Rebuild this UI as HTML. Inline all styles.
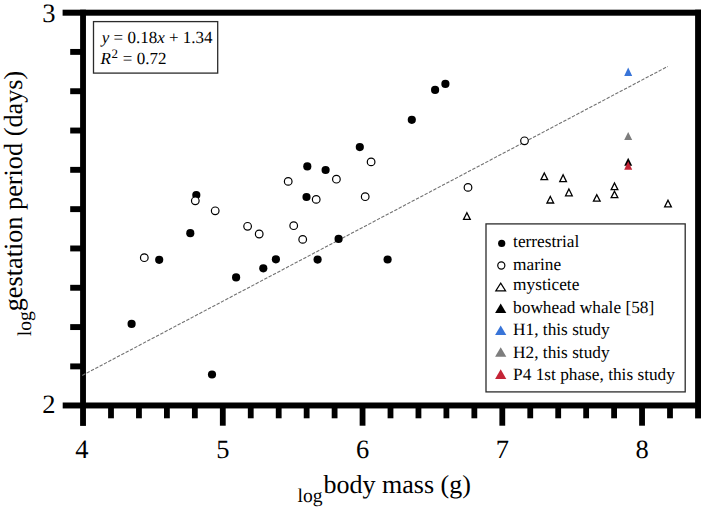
<!DOCTYPE html><html><head><meta charset="utf-8"><style>html,body{margin:0;padding:0;background:#fff;}svg{display:block;}text{font-family:"Liberation Serif",serif;fill:#000;text-rendering:geometricPrecision;}</style></head><body>
<svg width="701" height="508" viewBox="0 0 701 508">
<rect width="701" height="508" fill="#fff"/>
<rect x="62.6" y="9.7" width="640" height="6" fill="#000"/>
<rect x="62.7" y="402.5" width="640" height="5.95" fill="#000"/>
<rect x="80.1" y="9.7" width="5.85" height="416.2" fill="#000"/>
<rect x="695.1" y="9.7" width="6" height="408.7" fill="#000"/>
<line x1="82.3" y1="375.4" x2="667.8" y2="66.4" stroke="#727272" stroke-width="1.1" stroke-dasharray="3.4 1.5"/>
<circle cx="131.6" cy="323.9" r="4.08" fill="#000"/>
<circle cx="159.2" cy="259.8" r="4.08" fill="#000"/>
<circle cx="190.3" cy="233.2" r="4.08" fill="#000"/>
<circle cx="196.3" cy="195.0" r="4.08" fill="#000"/>
<circle cx="212.0" cy="374.5" r="4.08" fill="#000"/>
<circle cx="236.1" cy="277.4" r="4.08" fill="#000"/>
<circle cx="263.3" cy="268.3" r="4.08" fill="#000"/>
<circle cx="275.9" cy="259.3" r="4.08" fill="#000"/>
<circle cx="307.3" cy="166.4" r="4.08" fill="#000"/>
<circle cx="306.5" cy="197.0" r="4.08" fill="#000"/>
<circle cx="317.6" cy="259.6" r="4.08" fill="#000"/>
<circle cx="325.6" cy="170.0" r="4.08" fill="#000"/>
<circle cx="338.6" cy="238.9" r="4.08" fill="#000"/>
<circle cx="359.8" cy="147.1" r="4.08" fill="#000"/>
<circle cx="387.6" cy="259.5" r="4.08" fill="#000"/>
<circle cx="411.8" cy="119.8" r="4.08" fill="#000"/>
<circle cx="435.1" cy="89.9" r="4.08" fill="#000"/>
<circle cx="445.4" cy="83.9" r="4.08" fill="#000"/>
<circle cx="144.3" cy="257.7" r="3.82" fill="#fff" stroke="#000" stroke-width="1.2"/>
<circle cx="195.3" cy="200.8" r="3.82" fill="#fff" stroke="#000" stroke-width="1.2"/>
<circle cx="215.2" cy="210.8" r="3.82" fill="#fff" stroke="#000" stroke-width="1.2"/>
<circle cx="247.6" cy="226.3" r="3.82" fill="#fff" stroke="#000" stroke-width="1.2"/>
<circle cx="259.2" cy="234.0" r="3.82" fill="#fff" stroke="#000" stroke-width="1.2"/>
<circle cx="288.2" cy="181.4" r="3.82" fill="#fff" stroke="#000" stroke-width="1.2"/>
<circle cx="293.7" cy="225.7" r="3.82" fill="#fff" stroke="#000" stroke-width="1.2"/>
<circle cx="302.7" cy="239.4" r="3.82" fill="#fff" stroke="#000" stroke-width="1.2"/>
<circle cx="316.2" cy="199.4" r="3.82" fill="#fff" stroke="#000" stroke-width="1.2"/>
<circle cx="336.4" cy="179.2" r="3.82" fill="#fff" stroke="#000" stroke-width="1.2"/>
<circle cx="365.2" cy="196.7" r="3.82" fill="#fff" stroke="#000" stroke-width="1.2"/>
<circle cx="371.1" cy="161.9" r="3.82" fill="#fff" stroke="#000" stroke-width="1.2"/>
<circle cx="468.0" cy="187.4" r="3.82" fill="#fff" stroke="#000" stroke-width="1.2"/>
<circle cx="524.5" cy="140.8" r="3.82" fill="#fff" stroke="#000" stroke-width="1.2"/>
<path d="M466.9 212.70000000000002L470.25 219.4L463.54999999999995 219.4Z" fill="#fff" stroke="#000" stroke-width="1.3" stroke-linejoin="miter"/>
<path d="M544.3 173.0L547.65 179.70000000000002L540.9499999999999 179.70000000000002Z" fill="#fff" stroke="#000" stroke-width="1.3" stroke-linejoin="miter"/>
<path d="M563.1 174.70000000000002L566.45 181.6L559.75 181.6Z" fill="#fff" stroke="#000" stroke-width="1.3" stroke-linejoin="miter"/>
<path d="M568.9 189.0L572.25 195.8L565.55 195.8Z" fill="#fff" stroke="#000" stroke-width="1.3" stroke-linejoin="miter"/>
<path d="M550.3 196.5L553.65 203.0L546.9499999999999 203.0Z" fill="#fff" stroke="#000" stroke-width="1.3" stroke-linejoin="miter"/>
<path d="M596.8 194.70000000000002L600.15 201.20000000000002L593.4499999999999 201.20000000000002Z" fill="#fff" stroke="#000" stroke-width="1.3" stroke-linejoin="miter"/>
<path d="M614.5 183.0L617.85 189.6L611.15 189.6Z" fill="#fff" stroke="#000" stroke-width="1.3" stroke-linejoin="miter"/>
<path d="M614.5 191.20000000000002L617.85 197.70000000000002L611.15 197.70000000000002Z" fill="#fff" stroke="#000" stroke-width="1.3" stroke-linejoin="miter"/>
<path d="M668.0 200.3L671.35 206.9L664.65 206.9Z" fill="#fff" stroke="#000" stroke-width="1.3" stroke-linejoin="miter"/>
<path d="M628.2 67.5L632.2 75.9L624.2 75.9Z" fill="#3874d8"/>
<path d="M628.2 132.0L632.2 139.9L624.2 139.9Z" fill="#7d7d7d"/>
<path d="M628.2 157.7L632.2 165.7L624.2 165.7Z" fill="#000"/>
<path d="M628.2 161.3L632.2 169.8L624.2 169.8Z" fill="#c42436"/>
<rect x="93.5" y="21.6" width="124.2" height="51.5" fill="#fff" stroke="#2b2b2b" stroke-width="1.3"/>
<text x="101.8" y="43.3" font-size="17"><tspan font-style="italic">y</tspan> = 0.18<tspan font-style="italic">x</tspan> + 1.34</text>
<text x="100.6" y="63.9" font-size="17"><tspan font-style="italic">R</tspan><tspan font-size="13" dy="-5.6" dx="0.5">2</tspan><tspan dy="5.6" dx="0.6"> = 0.72</tspan></text>
<rect x="486" y="223.9" width="199.2" height="168" fill="#fff" stroke="#2b2b2b" stroke-width="1.3"/>
<text x="513.1" y="246.9" font-size="17.3">terrestrial</text>
<text x="513.1" y="269.7" font-size="17.3">marine</text>
<text x="513.1" y="290.0" font-size="17.3">mysticete</text>
<text x="513.1" y="313.2" font-size="17.3">bowhead whale [58]</text>
<text x="513.1" y="334.9" font-size="17.3">H1, this study</text>
<text x="513.1" y="357.7" font-size="17.3">H2, this study</text>
<text x="513.1" y="379.6" font-size="17.3">P4 1st phase, this study</text>
<circle cx="501.7" cy="243.4" r="3.6" fill="#000"/>
<circle cx="501.3" cy="265.5" r="3.55" fill="#fff" stroke="#000" stroke-width="1.2"/>
<path d="M500.7 283.2L505.6 290.8L495.8 290.8Z" fill="#fff" stroke="#000" stroke-width="1.2"/>
<path d="M500.7 303.5L506.3 313.1L495.1 313.1Z" fill="#000"/>
<path d="M500.7 325.5L506.3 335.1L495.1 335.1Z" fill="#3874d8"/>
<path d="M500.7 347.2L506.3 356.8L495.1 356.8Z" fill="#7d7d7d"/>
<path d="M500.7 369.3L506.3 378.90000000000003L495.1 378.90000000000003Z" fill="#c42436"/>
<rect x="70.2" y="363.44" width="11" height="5.9" fill="#000"/>
<rect x="70.2" y="324.13" width="11" height="5.9" fill="#000"/>
<rect x="70.2" y="284.82" width="11" height="5.9" fill="#000"/>
<rect x="70.2" y="245.51" width="11" height="5.9" fill="#000"/>
<rect x="70.2" y="206.20" width="11" height="5.9" fill="#000"/>
<rect x="70.2" y="166.89" width="11" height="5.9" fill="#000"/>
<rect x="70.2" y="127.58" width="11" height="5.9" fill="#000"/>
<rect x="70.2" y="88.27" width="11" height="5.9" fill="#000"/>
<rect x="70.2" y="48.96" width="11" height="5.9" fill="#000"/>
<rect x="108.10" y="405" width="5.8" height="13.3" fill="#000"/>
<rect x="136.05" y="405" width="5.8" height="13.3" fill="#000"/>
<rect x="164.00" y="405" width="5.8" height="13.3" fill="#000"/>
<rect x="191.95" y="405" width="5.8" height="13.3" fill="#000"/>
<rect x="219.90" y="405" width="5.8" height="20.7" fill="#000"/>
<rect x="247.85" y="405" width="5.8" height="13.3" fill="#000"/>
<rect x="275.80" y="405" width="5.8" height="13.3" fill="#000"/>
<rect x="303.75" y="405" width="5.8" height="13.3" fill="#000"/>
<rect x="331.70" y="405" width="5.8" height="13.3" fill="#000"/>
<rect x="359.65" y="405" width="5.8" height="20.7" fill="#000"/>
<rect x="387.60" y="405" width="5.8" height="13.3" fill="#000"/>
<rect x="415.55" y="405" width="5.8" height="13.3" fill="#000"/>
<rect x="443.50" y="405" width="5.8" height="13.3" fill="#000"/>
<rect x="471.45" y="405" width="5.8" height="13.3" fill="#000"/>
<rect x="499.40" y="405" width="5.8" height="20.7" fill="#000"/>
<rect x="527.35" y="405" width="5.8" height="13.3" fill="#000"/>
<rect x="555.30" y="405" width="5.8" height="13.3" fill="#000"/>
<rect x="583.25" y="405" width="5.8" height="13.3" fill="#000"/>
<rect x="611.20" y="405" width="5.8" height="13.3" fill="#000"/>
<rect x="639.15" y="405" width="5.8" height="20.7" fill="#000"/>
<rect x="667.10" y="405" width="5.8" height="13.3" fill="#000"/>
<text x="81.8" y="458.2" font-size="26.5" text-anchor="middle">4</text>
<text x="222.8" y="458.2" font-size="26.5" text-anchor="middle">5</text>
<text x="362.6" y="458.2" font-size="26.5" text-anchor="middle">6</text>
<text x="502.3" y="458.2" font-size="26.5" text-anchor="middle">7</text>
<text x="642.0" y="458.2" font-size="26.5" text-anchor="middle">8</text>
<text x="48.8" y="22" font-size="26.5" text-anchor="middle">3</text>
<text x="48.8" y="413.2" font-size="26.5" text-anchor="middle">2</text>
<text x="297.6" y="501.6" font-size="19.6">log</text>
<text x="323.5" y="493" font-size="26">body mass (g)</text>
<g transform="translate(30.6 336.3) rotate(-90)"><text x="0" y="0" font-size="19.6">log</text></g>
<g transform="translate(22 311.3) rotate(-90)"><text x="0" y="0" font-size="26.25">gestation period (days)</text></g>
</svg></body></html>
